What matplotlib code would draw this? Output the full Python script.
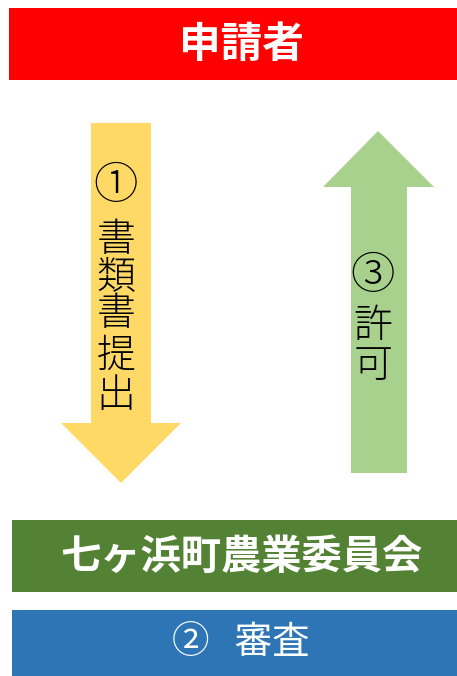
import matplotlib
matplotlib.use("Agg")
from matplotlib import pyplot as plt
from matplotlib.patches import Rectangle, Polygon

plt.rcParams['font.family'] = ['Noto Sans CJK JP', 'DejaVu Sans']

# text content
box_labels = ['申請者', '七ヶ浜町農業委員会', '②   審査']
down_label = ['①', '書', '類', '書', '提', '出']
up_label = ['③', '許', '可']

# layout (pixel units, y down)
box_colors = ['#FF0000', '#548235', '#2E75B6']
box_extents = [(9, 8, 448, 72), (12, 520, 445, 72), (12, 610, 445, 66)]
box_text_y = [45, 557, 643]
box_text_size = [30, 29, 27]
box_text_weight = ['bold', 'bold', 'normal']

fig = plt.figure(figsize=(4.57, 6.76), dpi=100)
ax = fig.add_axes([0, 0, 1, 1])
ax.set_xlim(0, 457)
ax.set_ylim(676, 0)
ax.axis('off')

for (x, y, w, h), c, lab, ty, fs, fw in zip(box_extents, box_colors, box_labels,
                                           box_text_y, box_text_size, box_text_weight):
    ax.add_patch(Rectangle((x, y), w, h, facecolor=c, edgecolor='none'))
    ax.text(241, ty, lab, color='white', fontsize=fs, fontweight=fw,
            ha='center', va='center')

# down arrow (yellow)
down = [(91, 123), (151, 123), (151, 423), (181, 423), (121, 483),
        (61, 423), (91, 423)]
ax.add_patch(Polygon(down, closed=True, facecolor='#FFD966', edgecolor='none'))
down_y = [186, 240, 277, 314, 356, 396]
for i, (ch, y) in enumerate(zip(down_label, down_y)):
    ax.text(116, y, ch, fontsize=32 if i == 0 else 28, fontweight='light',
            ha='center', va='center', color='black')

# up arrow (green)
up = [(378, 131), (434, 187), (407, 187), (407, 473), (351, 473),
      (351, 187), (323, 187)]
ax.add_patch(Polygon(up, closed=True, facecolor='#A9D18E', edgecolor='none'))
up_y = [276, 326, 366]
for i, (ch, y) in enumerate(zip(up_label, up_y)):
    ax.text(373, y, ch, fontsize=32 if i == 0 else 28, fontweight='light',
            ha='center', va='center', color='black')

fig.savefig('out.png', dpi=100)
